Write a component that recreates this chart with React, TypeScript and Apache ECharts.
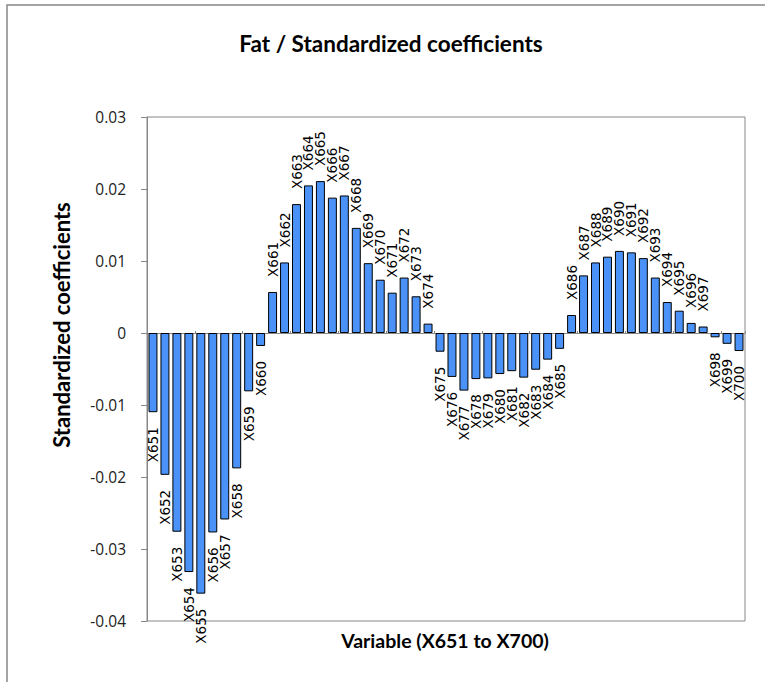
import React, { useEffect, useRef } from "react";
import * as echarts from "echarts";

const categories: string[] = [
  "X651", "X652", "X653", "X654", "X655", "X656", "X657", "X658", "X659", "X660",
  "X661", "X662", "X663", "X664", "X665", "X666", "X667", "X668", "X669", "X670",
  "X671", "X672", "X673", "X674", "X675", "X676", "X677", "X678", "X679", "X680",
  "X681", "X682", "X683", "X684", "X685", "X686", "X687", "X688", "X689", "X690",
  "X691", "X692", "X693", "X694", "X695", "X696", "X697", "X698", "X699", "X700",
];

const coefficients: number[] = [
  -0.011, -0.0197, -0.0276, -0.0332, -0.0362, -0.0277, -0.0259, -0.0188, -0.0081, -0.0018,
  0.0057, 0.0098, 0.0179, 0.0205, 0.0211, 0.0188, 0.0191, 0.0146, 0.0097, 0.0074,
  0.0056, 0.0077, 0.0051, 0.0013, -0.0026, -0.0061, -0.008, -0.0064, -0.0063, -0.0057,
  -0.0053, -0.0062, -0.0051, -0.0037, -0.0022, 0.0025, 0.008, 0.0098, 0.0106, 0.0114,
  0.0112, 0.0104, 0.0077, 0.0043, 0.0031, 0.0014, 0.0009, -0.0006, -0.0015, -0.0025,
];

const yMin = -0.04;
const yMax = 0.03;
const yStep = 0.01;

const chartTitle = "Fat / Standardized coefficients";
const yTitle = "Standardized coefficients";
const xTitle = "Variable (X651 to X700)";

const UI_FONT = "Lato, 'Open Sans', sans-serif";
const TICK_FONT = "'Open Sans', sans-serif";
const LABEL_FONT = "'DejaVu Sans', sans-serif";

export default function App() {
  const ref = useRef<HTMLDivElement>(null);

  useEffect(() => {
    if (!ref.current) return;
    const chart = echarts.init(ref.current, undefined, { renderer: "svg" });

    const labelBase = {
      show: true,
      rotate: 90,
      distance: 15,
      verticalAlign: "middle",
      fontFamily: LABEL_FONT,
      fontSize: 13.5,
      color: "#000",
      formatter: (p: any) => p.name,
    };

    const data = coefficients.map((v) => ({
      value: v,
      label:
        v >= 0
          ? { ...labelBase, position: "top", align: "left" }
          : { ...labelBase, position: "bottom", align: "right" },
    }));

    chart.setOption({
      animation: false,
      backgroundColor: "#fff",
      grid: {
        left: 147,
        top: 117,
        width: 598,
        height: 504,
        show: true,
        borderColor: "#888",
        borderWidth: 1,
        backgroundColor: "transparent",
      },
      xAxis: {
        type: "category",
        data: categories,
        axisLine: { onZero: true, lineStyle: { color: "#888", width: 1 } },
        axisTick: { show: true, inside: true, length: 2, lineStyle: { color: "#888" } },
        axisLabel: { show: false },
        splitLine: { show: false },
      },
      yAxis: {
        type: "value",
        min: yMin,
        max: yMax,
        interval: yStep,
        axisLine: { show: true, lineStyle: { color: "#888", width: 1 } },
        axisTick: { show: true, inside: false, length: 6, lineStyle: { color: "#888" } },
        axisLabel: {
          margin: 21,
          fontFamily: TICK_FONT,
          fontSize: 15.5,
          color: "#222",
          formatter: (v: number) => String(Math.round(v * 100) / 100),
        },
        splitLine: { show: false },
      },
      series: [
        {
          type: "bar",
          data,
          barCategoryGap: "25%",
          itemStyle: { color: "#4a92f7", borderColor: "#000", borderWidth: 1 },
        },
      ],
      graphic: [
        {
          type: "rect",
          shape: { x: 7, y: 5, width: 800, height: 720 },
          style: { fill: "none", stroke: "#888", lineWidth: 1.5 },
          silent: true,
          z: -10,
        },
        {
          type: "text",
          x: 391,
          y: 43,
          style: {
            text: chartTitle,
            fontFamily: UI_FONT,
            fontWeight: "bold",
            fontSize: 22.5,
            fill: "#000",
            align: "center",
            verticalAlign: "middle",
          },
        },
        {
          type: "text",
          x: 61,
          y: 325,
          rotation: Math.PI / 2,
          style: {
            text: yTitle,
            fontFamily: UI_FONT,
            fontWeight: "bold",
            fontSize: 22,
            fill: "#000",
            align: "center",
            verticalAlign: "middle",
          },
        },
        {
          type: "text",
          x: 445,
          y: 640,
          style: {
            text: xTitle,
            fontFamily: UI_FONT,
            fontWeight: "bold",
            fontSize: 19.5,
            fill: "#000",
            align: "center",
            verticalAlign: "middle",
          },
        },
      ],
    });

    return () => chart.dispose();
  }, []);

  return (
    <div
      ref={ref}
      style={{ position: "fixed", left: 0, top: 0, width: 765, height: 682 }}
    />
  );
}
